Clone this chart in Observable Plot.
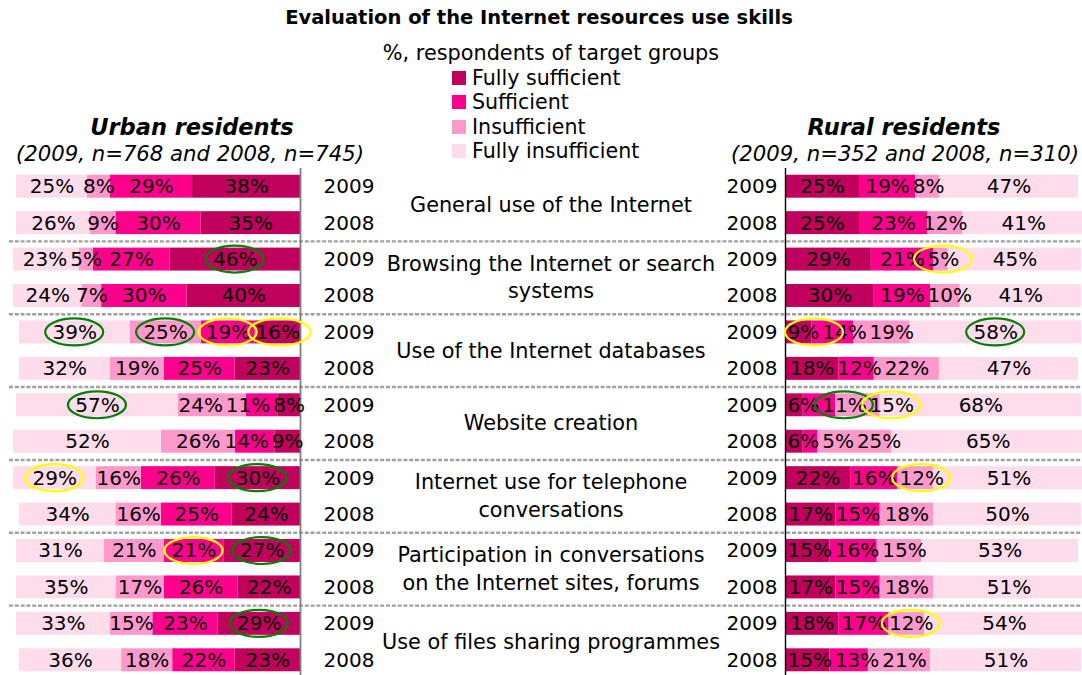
<!DOCTYPE html>
<html><head><meta charset="utf-8">
<script src="https://cdn.jsdelivr.net/npm/d3@7"></script>
<script src="https://cdn.jsdelivr.net/npm/@observablehq/plot@0.6"></script>
<style>
body{margin:0;background:#fff;font-family:"DejaVu Sans",Verdana,sans-serif;color:#000;}
#wrap{position:relative;width:1082px;height:675px;overflow:hidden;background:#fff;}
#header{position:relative;width:1082px;height:165px;}
.abs{position:absolute;white-space:nowrap;line-height:1;}
.c{transform:translate(-50%,-50%);}
.l{transform:translate(0,-50%);}
.sw{position:absolute;width:14px;height:14px;transform:translate(0,-50%);}
#chart svg{display:block;overflow:visible;}
</style></head><body>
<div id="wrap"><div id="header"></div><div id="chart"></div></div>
<script>
const title = "Evaluation of the Internet resources use skills";
const subtitle = "%, respondents of target groups";
const urbanTitle = "Urban residents";
const urbanNote = "(2009, n=768 and 2008, n=745)";
const ruralTitle = "Rural residents";
const ruralNote = "(2009, n=352 and 2008, n=310)";

const categories = [
  "General use of the Internet",
  "Browsing the Internet or search\nsystems",
  "Use of the Internet databases",
  "Website creation",
  "Internet use for telephone\nconversations",
  "Participation in conversations\non the Internet sites, forums",
  "Use of files sharing programmes"
];
const years = ["2009", "2008"];
const levels = ["Fully sufficient", "Sufficient", "Insufficient", "Fully insufficient"];
const colors = ["#c0005c", "#ff008c", "#ff99cc", "#ffdcec"];

// values per category: [Fully sufficient, Sufficient, Insufficient, Fully insufficient]
const urban2009 = [[38,29,8,25],[46,27,5,23],[16,19,25,39],[8,11,24,57],[30,26,16,29],[27,21,21,31],[29,23,15,33]];
const urban2008 = [[35,30,9,26],[40,30,7,24],[23,25,19,32],[9,14,26,52],[24,25,16,34],[22,26,17,35],[23,22,18,36]];
const rural2009 = [[25,19,8,47],[29,21,5,45],[9,14,19,58],[6,11,15,68],[22,16,12,51],[15,16,15,53],[18,17,12,54]];
const rural2008 = [[25,23,12,41],[30,19,10,41],[18,12,22,47],[6,5,25,65],[17,15,18,50],[17,15,18,51],[15,13,21,51]];

// highlighted values (ellipses): side, category index, year, level index, colour
const highlights = [
  ["urban",1,"2009",0,"green"],
  ["urban",2,"2009",3,"green"],["urban",2,"2009",2,"green"],["urban",2,"2009",1,"yellow"],["urban",2,"2009",0,"yellow"],
  ["urban",3,"2009",3,"green"],
  ["urban",4,"2009",3,"yellow"],["urban",4,"2009",0,"green"],
  ["urban",5,"2009",1,"yellow"],["urban",5,"2009",0,"green"],
  ["urban",6,"2009",0,"green"],
  ["rural",1,"2009",2,"yellow"],
  ["rural",2,"2009",0,"yellow"],["rural",2,"2009",3,"green"],
  ["rural",3,"2009",1,"green"],["rural",3,"2009",2,"yellow"],
  ["rural",4,"2009",2,"yellow"],
  ["rural",6,"2009",2,"yellow"]
];

// ---- header ----
const header = document.getElementById("header");
function addDiv(text, x, y, cls, style) {
  const d = document.createElement("div");
  d.className = "abs " + cls;
  d.textContent = text;
  d.style.left = x + "px"; d.style.top = y + "px";
  Object.assign(d.style, style || {});
  header.appendChild(d);
}
addDiv(title, 539, 18, "c", {fontWeight:"bold", fontSize:"19.5px"});
addDiv(subtitle, 551, 53, "c", {fontSize:"20.8px"});
levels.forEach((lv, i) => {
  const y = 78 + i * 24.4;
  const s = document.createElement("div");
  s.className = "sw"; s.style.left = "452px"; s.style.top = y + "px"; s.style.background = colors[i];
  header.appendChild(s);
  addDiv(lv, 472, y, "l", {fontSize:"20.6px"});
});
addDiv(urbanTitle, 192, 127, "c", {fontWeight:"bold", fontStyle:"italic", fontSize:"22.5px"});
addDiv(urbanNote, 190, 154, "c", {fontStyle:"italic", fontSize:"21.2px"});
addDiv(ruralTitle, 904, 127, "c", {fontWeight:"bold", fontStyle:"italic", fontSize:"22.5px"});
addDiv(ruralNote, 905, 154, "c", {fontStyle:"italic", fontSize:"21.2px"});

// ---- chart data ----
const GAP = 100;
const xDomain = [-100, 0, GAP, GAP + 100];
const xRange = [16, 300, 785, 1081];
const ppu = {urban: (xRange[1] - xRange[0]) / 100, rural: (xRange[3] - xRange[2]) / 100};
const rowKeys = categories.flatMap((c, i) => years.map(y => i + "|" + y));
const segments = [], labels = [];
const labelIndex = new Map();
function textWidth(t) { return t.replace("%","").length * 12.7 + 19; }
function addSide(side, v09, v08) {
  categories.forEach((c, i) => {
    years.forEach(y => {
      const vals = (y === "2009" ? v09 : v08)[i];
      const row = i + "|" + y;
      let cum = 0;
      const centers = [];
      vals.forEach((v, k) => {
        const a = cum, b = cum + v;
        cum = b;
        const x1 = side === "urban" ? -a : GAP + a;
        const x2 = side === "urban" ? -b : GAP + b;
        segments.push({row, level: levels[k], x1, x2});
        centers.push({k, c: (a + b) / 2, text: v + "%"});
      });
      // keep first rural label clear of the axis
      if (side === "rural") {
        const minC = (textWidth(centers[0].text) / 2 + 2) / ppu[side];
        if (centers[0].c < minC) centers[0].c = minC;
      }
      // push labels apart outward so they do not overlap
      for (let j = 1; j < centers.length; j++) {
        const p = centers[j - 1], q = centers[j];
        const need = ((textWidth(p.text) + textWidth(q.text)) / 2 + 3) / ppu[side];
        if (q.c - p.c < need) q.c = p.c + need;
      }
      centers.forEach(o => {
        const x = side === "urban" ? -o.c : GAP + o.c;
        const lab = {row, x, text: o.text};
        labels.push(lab);
        labelIndex.set(side + "|" + row + "|" + o.k, {lab, side, c: o.c});
      });
    });
  });
}
addSide("urban", urban2009, urban2008);
addSide("rural", rural2009, rural2008);

const ellipses = highlights.map(([side, ci, y, k, color]) => {
  const e = labelIndex.get(side + "|" + ci + "|" + y + "|" + k);
  const hw = 29 / ppu[side];
  const c = side === "rural" ? Math.max(e.c, hw) : e.c;
  const a = c - hw, b = c + hw;
  return {row: ci + "|" + y, color,
    x1: side === "urban" ? -a : GAP + a,
    x2: side === "urban" ? -b : GAP + b};
});

const H = 513, MT = 3, MB = 0;
const step = (H - MT - MB) / rowKeys.length;
const lastCat = categories.length - 1;

const plot = Plot.plot({
  width: 1082, height: H, marginTop: MT, marginBottom: MB, marginLeft: 9, marginRight: 0,
  x: {type: "linear", domain: xDomain, range: xRange, axis: null},
  y: {type: "band", domain: rowKeys, paddingInner: 0.37, paddingOuter: 0.185, round: false, axis: null},
  color: {domain: levels, range: colors},
  style: {fontFamily: '"DejaVu Sans", Verdana, sans-serif', fontSize: "20px", background: "white", color: "black"},
  marks: [
    Plot.ruleY(rowKeys.filter(k => k.endsWith("|2008") && !k.startsWith(lastCat + "|")),
      {y: d => d, dy: step / 2, stroke: "#a0a0a0", strokeWidth: 2.4, strokeDasharray: "4,1.8"}),
    Plot.barX(segments, {x1: "x1", x2: "x2", y: "row", fill: "level"}),
    Plot.ruleX([0], {x: d => d, stroke: "#808080", strokeWidth: 1.8}),
    Plot.ruleX([GAP], {x: d => d, stroke: "#000", strokeWidth: 1.4}),
    Plot.text(rowKeys, {x: d => 0, y: d => d, text: d => d.split("|")[1], textAnchor: "start", dx: 23, fontSize: 20, fill: "black"}),
    Plot.text(rowKeys, {x: d => GAP, y: d => d, text: d => d.split("|")[1], textAnchor: "end", dx: -8, fontSize: 20, fill: "black"}),
    Plot.text(categories.map((c, i) => ({row: i + "|2009", c})), {y: "row", text: "c", dy: step / 2 - 2, dx: 5, lineHeight: 1.33, fontSize: 20.8, fill: "black"}),
    Plot.text(labels, {x: "x", y: "row", text: "text", fontSize: 20, fill: "black"}),
    Plot.barX(ellipses.filter(e => e.color === "green"), {x1: "x1", x2: "x2", y: "row", fill: "none", stroke: "#008000", strokeWidth: 2.2, rx: 200, ry: 200, insetTop: -2, insetBottom: -2}),
    Plot.barX(ellipses.filter(e => e.color === "yellow"), {x1: "x1", x2: "x2", y: "row", fill: "none", stroke: "#ffff00", strokeWidth: 2.2, rx: 200, ry: 200, insetTop: -2, insetBottom: -2})
  ]
});
document.getElementById("chart").appendChild(plot);
</script>
</body></html>
